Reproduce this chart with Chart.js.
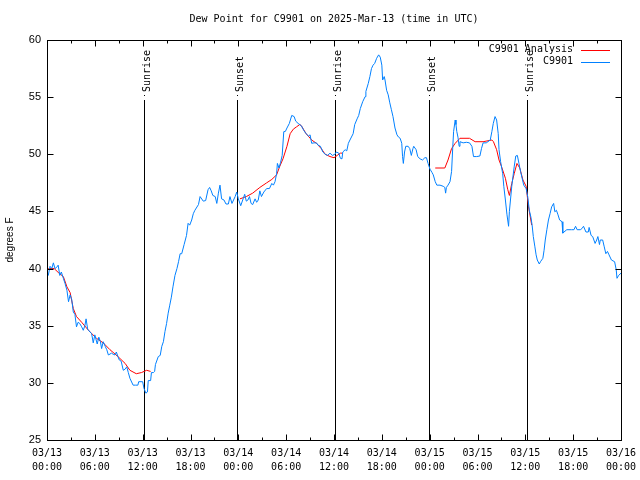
<!DOCTYPE html>
<html><head><meta charset="utf-8">
<script src="https://cdn.jsdelivr.net/npm/chart.js@4/dist/chart.umd.min.js"></script>
<style>html,body{margin:0;padding:0;background:#fff}canvas{display:block}</style>
</head><body>
<canvas id="c" width="640" height="480"></canvas>
<script>
const titleText = 'Dew Point for C9901 on 2025-Mar-13 (time in UTC)';
const yAxisTitle = 'degrees F';
const xTickDates = ['03/13','03/13','03/13','03/13','03/14','03/14','03/14','03/14','03/15','03/15','03/15','03/15','03/16'];
const xTickTimes = ['00:00','06:00','12:00','18:00','00:00','06:00','12:00','18:00','00:00','06:00','12:00','18:00','00:00'];
const seriesNames = ['C9901 Analysis','C9901'];

// hours since 03/13 00:00 UTC
const obsHours = [0.0,0.16,0.38,0.6,0.8,1.0,1.2,1.4,1.6,1.8,2.05,2.26,2.5,2.7,2.9,3.1,3.3,3.5,3.7,3.9,4.1,4.35,4.55,4.75,4.9,5.1,5.4,5.6,5.8,6.0,6.3,6.5,6.7,6.85,7.05,7.3,7.5,7.7,8.1,8.3,8.53,8.7,8.9,9.07,9.3,9.57,9.8,10.0,10.2,10.4,10.8,11.1,11.4,11.5,12.0,12.17,12.4,12.6,12.7,13.0,13.1,13.35,13.5,13.6,13.96,14.2,14.4,14.6,14.8,15.0,15.2,15.4,15.6,15.8,16.05,16.3,16.5,16.7,16.9,17.2,17.5,17.7,17.9,18.15,18.35,18.55,19.0,19.2,19.6,19.9,20.2,20.4,20.6,20.8,21.1,21.3,21.5,21.7,21.9,22.2,22.45,22.75,22.95,23.2,23.4,23.6,23.8,24.0,24.3,24.6,24.8,25.0,25.2,25.4,25.6,25.8,26.1,26.3,26.5,26.7,26.9,27.2,27.55,27.9,28.2,28.4,28.6,28.8,28.9,29.1,29.3,29.5,29.7,29.9,30.1,30.4,30.7,31.0,31.2,31.5,31.9,32.2,32.5,32.8,33.0,33.2,33.5,33.8,34.0,34.3,34.6,34.9,35.2,35.5,35.8,36.1,36.3,36.6,36.8,37.0,37.1,37.4,37.6,37.8,38.0,38.4,38.6,38.9,39.1,39.3,39.6,39.9,40.0,40.3,40.5,40.7,40.9,41.1,41.35,41.6,41.8,42.0,42.1,42.3,42.4,42.6,42.8,43.0,43.2,43.4,43.65,43.9,44.1,44.3,44.5,44.6,44.7,44.85,45.0,45.3,45.5,45.7,45.9,46.0,46.3,46.5,46.8,47.1,47.4,47.6,47.8,48.04,48.3,48.45,48.7,48.9,49.3,49.7,49.9,50.0,50.1,50.3,50.55,50.75,50.9,51.0,51.2,51.3,51.4,51.55,51.7,51.8,52.2,52.6,53.0,53.3,53.5,53.9,54.3,54.5,54.7,55.1,55.6,55.8,55.98,56.2,56.4,56.6,56.7,56.9,57.16,57.3,57.5,57.7,57.9,58.0,58.3,58.6,58.8,59.0,59.2,59.4,59.65,59.8,60.1,60.3,60.5,60.7,60.85,61.0,61.2,61.35,61.5,61.75,61.9,62.2,62.35,62.5,62.7,62.9,63.1,63.3,63.55,63.7,63.9,64.1,64.3,64.6,64.7,64.85,65.2,65.8,66.1,66.3,66.5,66.9,67.1,67.3,67.6,67.9,68.0,68.25,68.45,68.6,68.75,68.95,69.1,69.3,69.4,69.7,69.9,70.1,70.3,70.5,70.8,71.2,71.4,71.5,71.7,72.0];
const obsDewpt = [39.4,39.4,40.2,40.0,40.5,40.0,40.1,40.3,39.4,39.7,39.15,38.7,38.1,37.1,37.7,37.3,36.2,36.0,34.9,35.3,35.2,34.9,34.6,35.0,35.6,34.7,34.45,34.3,33.5,34.2,33.4,34.0,33.6,33.0,33.6,33.2,32.9,32.44,32.6,32.5,32.44,32.7,32.3,32.0,31.9,31.1,31.2,31.4,30.9,30.4,29.8,29.8,29.8,30.1,30.1,29.5,29.1,29.2,30.2,30.2,30.9,30.9,31.0,31.6,32.3,32.4,33.2,33.6,34.5,35.2,36.1,36.8,37.5,38.4,39.4,40.0,40.6,41.3,41.3,42.1,42.9,43.96,43.8,44.25,44.8,45.1,45.6,46.3,45.9,45.95,46.9,47.1,46.8,46.4,46.3,45.7,46.6,47.3,46.1,46.0,45.65,45.65,46.3,45.7,46.0,46.3,46.7,46.1,45.5,46.1,46.5,45.9,46.0,46.3,45.7,45.6,46.1,45.8,46.0,46.8,46.3,46.7,47.0,47.0,47.45,47.3,47.6,48.3,49.2,48.8,49.3,49.9,51.98,52.0,52.3,52.7,53.4,53.3,52.9,52.7,52.5,52.1,51.8,51.6,51.7,50.96,51.0,51.0,50.8,50.7,50.2,50.0,49.9,50.1,49.9,50.0,50.2,50.1,49.65,49.6,50.2,50.4,50.3,50.96,51.25,51.8,52.6,53.1,53.4,54.0,54.6,55.04,55.5,56.2,56.8,57.5,57.8,57.95,58.4,58.7,58.5,57.8,56.5,56.8,56.5,55.6,55.2,54.5,53.9,53.3,52.3,51.7,51.5,51.4,50.96,49.8,49.2,50.2,50.7,50.7,50.5,49.9,50.5,50.7,50.4,49.8,49.6,49.5,49.7,49.7,49.2,48.7,48.4,48.2,47.6,47.3,47.3,47.2,47.1,46.6,47.1,47.3,47.6,48.5,50.67,51.98,53.0,52.6,52.0,51.5,50.7,51.1,51.0,51.05,51.0,50.7,49.8,49.8,49.85,50.5,51.0,51.0,51.25,51.98,52.7,53.3,53.0,51.8,50.4,49.35,48.3,47.2,46.0,44.7,43.7,45.0,47.2,48.9,49.85,49.9,49.2,48.5,47.75,47.3,47.0,46.3,45.1,44.5,43.8,42.8,41.9,41.2,40.75,40.4,40.6,40.9,41.6,42.5,43.4,44.25,44.8,45.4,45.7,44.97,45.1,44.7,44.25,44.1,43.1,43.2,43.4,43.4,43.4,43.7,43.4,43.4,43.5,43.7,43.2,43.2,43.6,42.9,42.8,42.5,42.2,42.5,42.8,42.1,42.5,42.5,41.9,41.3,41.5,41.2,40.75,40.6,39.9,39.15,39.4,39.6];

const anaHours = [0.16,0.9,1.5,2.05,2.5,2.9,3.3,3.7,4.35,5.2,6.2,7.05,7.9,8.9,9.8,10.4,11.2,11.85,12.5,13.0,18.0,24.2,25.0,25.8,26.7,27.55,28.2,28.8,29.2,29.6,30.1,30.5,30.9,31.3,31.7,31.9,32.5,33.2,33.8,34.4,34.9,35.5,36.0,36.4,36.8,37.0,42.0,48.7,49.9,50.3,50.75,51.2,51.8,53.0,53.7,54.7,55.8,56.0,56.4,56.7,57.0,57.5,57.8,58.0,58.3,58.6,58.95,59.3,59.7,60.1,60.4,60.8];
const anaDewpt = [40.0,40.0,39.6,39.3,38.4,37.9,36.5,35.8,35.3,34.6,33.9,33.5,32.9,32.3,31.7,31.1,30.8,30.9,31.1,31.0,null,46.1,46.3,46.6,47.1,47.5,47.8,48.2,48.95,49.6,50.7,51.8,52.2,52.4,52.6,52.5,51.8,51.25,50.96,50.5,50.0,49.8,49.7,49.9,50.1,50.1,null,48.8,48.8,49.5,50.5,50.96,51.4,51.4,51.1,51.1,51.25,51.1,50.4,49.5,48.95,47.9,46.9,46.4,47.45,48.3,49.2,48.8,47.75,47.2,45.4,43.8];

const sunHours = [12.17, 23.83, 36.1, 47.93, 60.2];
const sunLabels = ['Sunrise','Sunset','Sunrise','Sunset','Sunrise'];

const MONO = '"DejaVu Sans Mono", "Liberation Mono", monospace';
const SANS = '"Liberation Sans", Arial, sans-serif';

const obsData = obsHours.map((h, i) => ({x: h, y: obsDewpt[i]}));
const anaData = anaHours.map((h, i) => ({x: h, y: anaDewpt[i]}));

const decorPlugin = {
  id: 'decor',
  beforeDatasetsDraw(chart) {
    const {ctx, chartArea: a, scales: {x}} = chart;
    ctx.save();
    ctx.strokeStyle = '#000';
    ctx.lineWidth = 1;
    ctx.fillStyle = '#000';
    ctx.font = '10px ' + MONO;
    sunHours.forEach((h, i) => {
      const px = Math.round(x.getPixelForValue(h)) + 0.5;
      ctx.beginPath();
      ctx.moveTo(px, a.bottom);
      ctx.lineTo(px, a.top + 60);
      ctx.stroke();
      ctx.fillRect(px - 0.5, a.top + 55, 1, 1);
      ctx.save();
      ctx.translate(px + 2.5, a.top + 52);
      ctx.rotate(-Math.PI / 2);
      ctx.textAlign = 'left';
      ctx.textBaseline = 'middle';
      ctx.fillText(sunLabels[i], 0, 0);
      ctx.restore();
    });
    ctx.restore();
  },
  afterDraw(chart) {
    const {ctx, chartArea: a, scales: {x, y}} = chart;
    ctx.save();
    ctx.strokeStyle = '#000';
    ctx.lineWidth = 1;
    const L = Math.round(a.left) + 0.5, R = Math.round(a.right) + 0.5;
    const T = Math.round(a.top) + 0.5, B = Math.round(a.bottom) + 0.5;
    ctx.beginPath();
    for (let v = 0; v <= 72; v += 3) {
      const px = Math.round(x.getPixelForValue(v)) + 0.5;
      const len = v % 6 === 0 ? 6 : 3;
      ctx.moveTo(px, B); ctx.lineTo(px, B - len);
      ctx.moveTo(px, T); ctx.lineTo(px, T + len);
    }
    for (let v = 25; v <= 60; v += 5) {
      const py = Math.round(y.getPixelForValue(v)) + 0.5;
      ctx.moveTo(L, py); ctx.lineTo(L + 6, py);
      ctx.moveTo(R, py); ctx.lineTo(R - 6, py);
    }
    ctx.stroke();
    ctx.strokeRect(L, T, R - L, B - T);

    ctx.fillStyle = '#000';
    ctx.font = '10px ' + MONO;
    ctx.textAlign = 'center';
    ctx.textBaseline = 'middle';
    ctx.fillText(titleText, (a.left + a.right) / 2, 19);

    ctx.save();
    ctx.font = '10px ' + SANS;
    ctx.translate(10, (a.top + a.bottom) / 2);
    ctx.rotate(-Math.PI / 2);
    ctx.textAlign = 'center';
    ctx.textBaseline = 'middle';
    ctx.fillText(yAxisTitle, 0, 0);
    ctx.restore();

    const colors = ['#ff0000', '#0080ff'];
    ctx.font = '10px ' + MONO;
    ctx.textAlign = 'right';
    ctx.textBaseline = 'middle';
    seriesNames.forEach((n, i) => {
      const yy = a.top + 9 + i * 12;
      ctx.fillStyle = '#000';
      ctx.fillText(n, 573, yy);
      ctx.strokeStyle = colors[i];
      ctx.beginPath();
      ctx.moveTo(581, Math.round(yy) + 1.5);
      ctx.lineTo(610, Math.round(yy) + 1.5);
      ctx.stroke();
    });
    ctx.restore();
  }
};

new Chart(document.getElementById('c'), {
  type: 'line',
  data: {
    datasets: [
      {label: seriesNames[1], data: obsData, borderColor: '#0080ff', backgroundColor: '#0080ff', borderWidth: 1, pointRadius: 0, tension: 0, order: 0},
      {label: seriesNames[0], data: anaData, borderColor: '#ff0000', backgroundColor: '#ff0000', borderWidth: 1, pointRadius: 0, tension: 0, spanGaps: false, order: 1}
    ]
  },
  options: {
    responsive: false,
    animation: false,
    layout: {padding: {left: 0, right: 19, top: 40, bottom: 0}},
    plugins: {legend: {display: false}, title: {display: false}, tooltip: {enabled: false}},
    scales: {
      x: {
        type: 'linear', min: 0, max: 72,
        afterBuildTicks(scale) {
          const t = [];
          for (let v = 0; v <= 72; v += 3) t.push({value: v});
          scale.ticks = t;
        },
        afterFit(scale) { scale.height = 40; scale.paddingLeft = 0; scale.paddingRight = 0; },
        grid: {display: false, drawTicks: false, tickLength: 0},
        border: {display: false},
        ticks: {
          autoSkip: false, maxRotation: 0, minRotation: 0, padding: 6,
          color: '#000',
          font: {family: MONO, size: 10, lineHeight: 1.4},
          callback(v) {
            if (v % 6 !== 0) return '';
            const k = v / 6;
            return [xTickDates[k], xTickTimes[k]];
          }
        }
      },
      y: {
        type: 'linear', min: 25, max: 60,
        afterFit(scale) { scale.width = 47; scale.paddingTop = 0; scale.paddingBottom = 0; },
        grid: {display: false, drawTicks: false, tickLength: 0},
        border: {display: false},
        ticks: {stepSize: 5, padding: 6, color: '#000', font: {family: SANS, size: 11}}
      }
    }
  },
  plugins: [decorPlugin]
});
</script>
</body></html>
